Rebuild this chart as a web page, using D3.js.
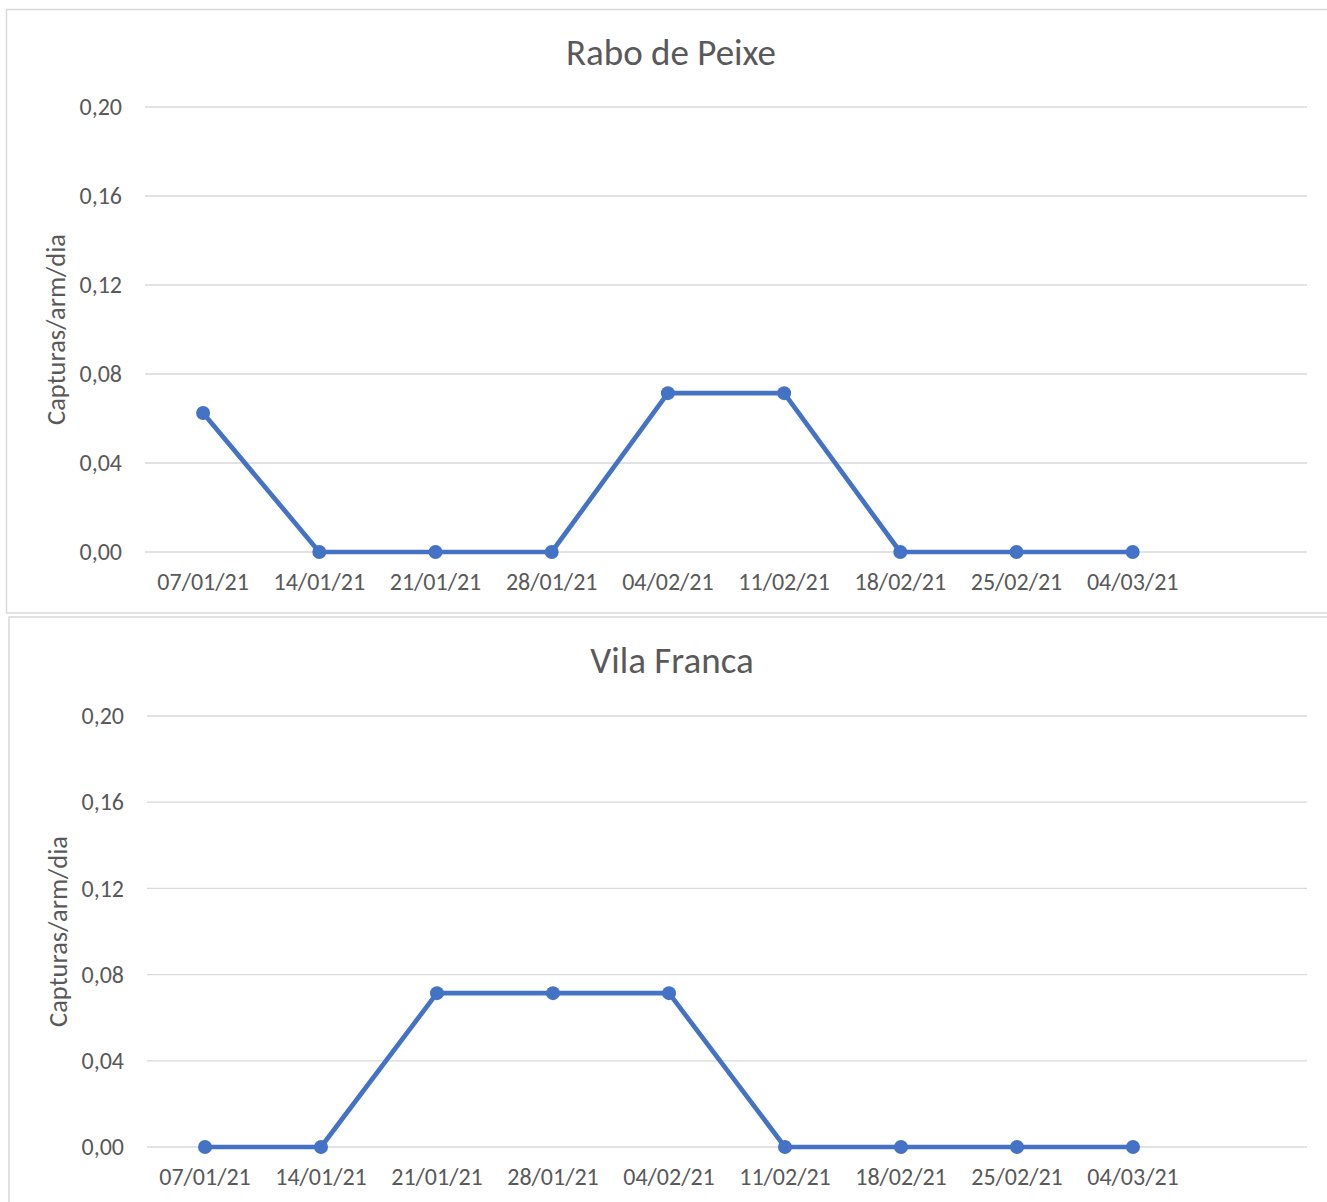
<!DOCTYPE html>
<html><head><meta charset="utf-8">
<script src="https://cdn.jsdelivr.net/npm/d3@7"></script>
<style>html,body{margin:0;padding:0;background:#fff;}svg{display:block;}</style>
</head><body>
<svg id="c" width="1327" height="1202"></svg>
<script>
const categories = ["07/01/21","14/01/21","21/01/21","28/01/21","04/02/21","11/02/21","18/02/21","25/02/21","04/03/21",""];
const raboDePeixe = [0.0625,0,0,0,0.0714,0.0714,0,0,0];
const vilaFranca = [0,0,0.0714,0.0714,0.0714,0,0,0,0];
const yTicks = [0,0.04,0.08,0.12,0.16,0.20];
const titles = ["Rabo de Peixe","Vila Franca"];
const yTitle = "Capturas/arm/dia";

const svg = d3.select("#c");
const FONT = "Carlito, Calibri, 'Open Sans', sans-serif";
const fmt = v => d3.format(".2f")(v).replace(".", ",");

function panel(cfg, values, title) {
  svg.append("rect").attr("x", cfg.bx).attr("y", cfg.by).attr("width", cfg.bw).attr("height", cfg.bh)
    .attr("fill", "#fff").attr("stroke", "#d9d9d9").attr("stroke-width", 1.5);
  const x = d3.scaleBand().domain(categories).range([cfg.left, cfg.right]);
  const y = d3.scaleLinear().domain([0, 0.2]).range([cfg.bottom, cfg.top]);
  const g = svg.append("g");
  g.selectAll(".grid").data(yTicks).enter().append("line")
    .attr("x1", cfg.left).attr("x2", cfg.right)
    .attr("y1", d => y(d)).attr("y2", d => y(d))
    .attr("stroke", "#d9d9d9").attr("stroke-width", 1.3);
  const ya = d3.axisLeft(y).tickValues(yTicks).tickFormat(fmt).tickSize(0).tickPadding(23);
  const yg = g.append("g").attr("transform", `translate(${cfg.left},0)`).call(ya);
  yg.select(".domain").remove();
  yg.selectAll("text").attr("font-family", FONT).attr("font-size", 24).attr("fill", "#595959");
  const xa = d3.axisBottom(x).tickSize(0).tickPadding(21);
  const xg = g.append("g").attr("transform", `translate(0,${cfg.bottom})`).call(xa);
  xg.select(".domain").remove();
  xg.selectAll("text").attr("font-family", FONT).attr("font-size", 24).attr("fill", "#595959");
  const cx = d => x(d) + x.bandwidth() / 2;
  const pts = values.map((v, i) => [categories[i], v]);
  g.append("path").datum(pts)
    .attr("d", d3.line().x(d => cx(d[0])).y(d => y(d[1])))
    .attr("fill", "none").attr("stroke", "#4472C4").attr("stroke-width", 4.7).attr("stroke-linejoin", "round");
  g.selectAll(".pt").data(pts).enter().append("circle")
    .attr("cx", d => cx(d[0])).attr("cy", d => y(d[1])).attr("r", 7).attr("fill", "#4472C4");
  svg.append("text").attr("x", cfg.titleX).attr("y", cfg.titleY).attr("text-anchor", "middle")
    .attr("font-family", FONT).attr("font-size", 37).attr("fill", "#595959").text(title);
  svg.append("text").attr("transform", `translate(${cfg.yTitleX},${(cfg.top + cfg.bottom) / 2}) rotate(-90)`)
    .attr("text-anchor", "middle").attr("font-family", FONT).attr("font-size", 26.5).attr("fill", "#595959").text(yTitle);
}

panel({bx: 6.5, by: 9.5, bw: 1330, bh: 603.5, left: 145, right: 1307, top: 107, bottom: 552, titleX: 671, titleY: 65, yTitleX: 65}, raboDePeixe, titles[0]);
panel({bx: 9, by: 617, bw: 1330, bh: 600, left: 147, right: 1307, top: 716, bottom: 1147, titleX: 672, titleY: 673, yTitleX: 67}, vilaFranca, titles[1]);
</script>
</body></html>
